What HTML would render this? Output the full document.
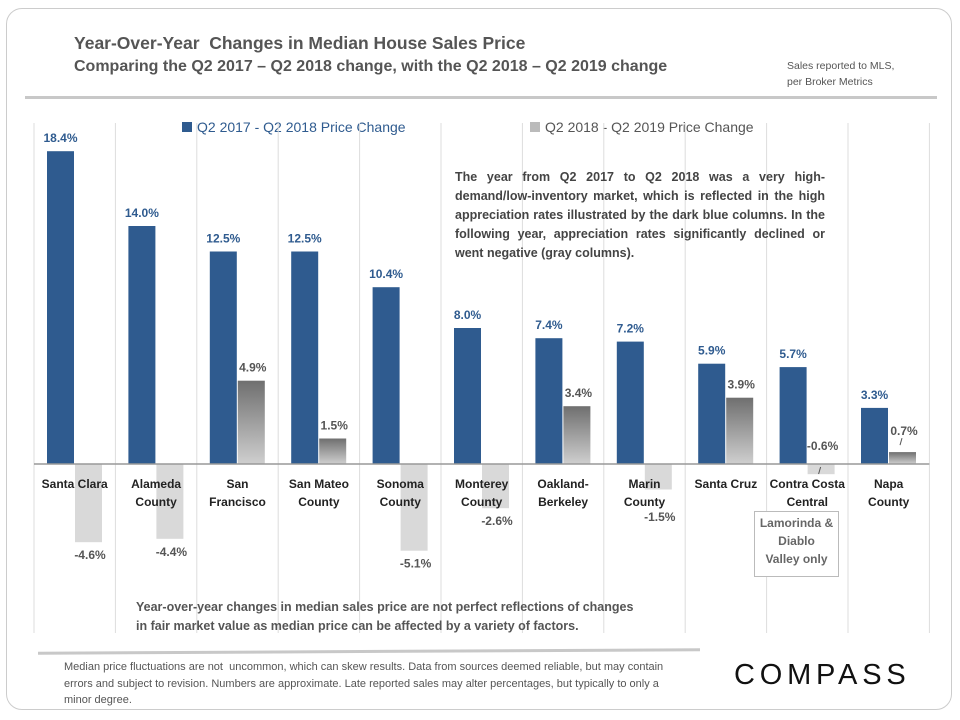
<!DOCTYPE html>
<html><head><meta charset="utf-8"><style>
body{margin:0;background:#fff;font-family:"Liberation Sans",sans-serif;}
#wrap{position:relative;width:960px;height:720px;overflow:hidden;}
.abs{position:absolute;}
</style></head><body>
<div id="wrap">
<div class="abs" style="left:6px;top:8px;width:944px;height:700px;border:1px solid #ccc;border-radius:16px;"></div>
<div class="abs" style="left:74px;top:33px;font-size:17.5px;font-weight:bold;color:#555;">Year-Over-Year&nbsp; Changes in Median House Sales Price</div>
<div class="abs" style="left:74px;top:58px;font-size:16px;font-weight:bold;color:#555;">Comparing the Q2 2017 – Q2 2018 change, with the Q2 2018 – Q2 2019 change</div>
<div class="abs" style="left:787px;top:58px;font-size:10.5px;color:#555;line-height:16px;">Sales reported to MLS,<br>per Broker Metrics</div>
<div class="abs" style="left:25px;top:96px;width:912px;height:3px;background:#c8c8c8;"></div>
<div class="abs" style="left:182px;top:119px;font-size:14px;color:#2f5b8f;"><span style="display:inline-block;width:10px;height:10px;background:#2f5b8f;margin-right:5px;"></span>Q2 2017 - Q2 2018 Price Change</div>
<div class="abs" style="left:530px;top:119px;font-size:14px;color:#555;"><span style="display:inline-block;width:10px;height:10px;background:#bbb;margin-right:5px;"></span>Q2 2018 - Q2 2019 Price Change</div>
<svg class="abs" style="left:0;top:0" width="960" height="720" id="chart">
<defs><linearGradient id="gg" x1="0" y1="0" x2="0" y2="1"><stop offset="0" stop-color="#6f6f6f"/><stop offset="1" stop-color="#cfcfcf"/></linearGradient></defs>
</svg>
<div class="abs" style="left:455px;top:168px;width:370px;font-size:12.5px;font-weight:bold;color:#444;line-height:19px;text-align:justify;">The year from Q2 2017 to Q2 2018 was a very high-demand/low-inventory market, which is reflected in the high appreciation rates illustrated by the dark blue columns. In the following year, appreciation rates significantly declined or went negative (gray columns).</div>
<div class="abs" style="left:754px;top:511px;width:83px;height:62px;border:1px solid #bbb;background:#fff;font-size:12px;font-weight:bold;color:#666;text-align:center;line-height:18px;padding-top:2px;">Lamorinda &amp;<br>Diablo<br>Valley only</div>
<div class="abs" style="left:136px;top:598px;font-size:12.5px;font-weight:bold;color:#555;line-height:19px;">Year-over-year changes in median sales price are not perfect reflections of changes<br>in fair market value as median price can be affected by a variety of factors.</div>
<div class="abs" style="left:38px;top:650px;width:662px;height:3px;background:#c8c8c8;transform:rotate(-0.3deg);"></div>
<div class="abs" style="left:64px;top:659px;width:625px;font-size:11px;color:#555;line-height:16.5px;">Median price fluctuations are not&nbsp; uncommon, which can skew results. Data from sources deemed reliable, but may contain errors and subject to revision. Numbers are approximate. Late reported sales may alter percentages, but typically to only a minor degree.</div>
<div class="abs" style="left:734px;top:659px;font-size:29px;letter-spacing:4.8px;color:#111;">COMPASS</div>
</div>
<script>
const categories=[["Santa Clara"],["Alameda","County"],["San","Francisco"],["San Mateo","County"],["Sonoma","County"],["Monterey","County"],["Oakland-","Berkeley"],["Marin","County"],["Santa Cruz"],["Contra Costa","Central"],["Napa","County"]];
const change1718=[18.4,14.0,12.5,12.5,10.4,8.0,7.4,7.2,5.9,5.7,3.3];
const change1819=[-4.6,-4.4,4.9,1.5,-5.1,-2.6,3.4,-1.5,3.9,-0.6,0.7];
const svg=document.getElementById('chart');
const NS='http://www.w3.org/2000/svg';
const x0=34,catW=81.4,zeroY=464,pxPer=17.0;
const y=v=>zeroY-v*pxPer;
function mk(t,a){const e=document.createElementNS(NS,t);for(const k in a)e.setAttribute(k,a[k]);svg.appendChild(e);return e;}
for(let i=0;i<=categories.length;i++){
 const l=mk('line',{x1:x0+i*catW,x2:x0+i*catW,y1:123,y2:633,stroke:'#ddd','stroke-width':1});
 
 
}
categories.forEach((c,i)=>{
 const cx=x0+i*catW;
 const v1=change1718[i],v2=change1819[i];
 const b1=mk('rect',{x:cx+13,y:Math.min(y(v1),zeroY),width:27,height:Math.abs(v1*pxPer),fill:'#2f5b8f'});
 
 
 const b2=mk('rect',{x:cx+41,y:Math.min(y(v2),zeroY),width:27,height:Math.abs(v2*pxPer),fill:v2>=0?'url(#gg)':'#d9d9d9'});
 
 
 const t1=mk('text',{x:cx+26.5,y:y(v1)-9,'text-anchor':'middle','font-size':12,'font-weight':'bold',fill:'#2f5b8f'});
 t1.textContent=v1.toFixed(1)+'%';
 
 
 let lx=cx+56,ly;
 if(Math.abs(v2)<1){
  ly=v2<0?zeroY-14:y(v2)-17;
  const ld=mk('line',{x1:cx+54,y1:ly+3,x2:cx+52,y2:ly+10,stroke:'#555','stroke-width':1});
  if(v2<0){ld.setAttribute('y1',zeroY+3);ld.setAttribute('y2',zeroY+10);}
  
  
 } else ly=v2>=0?y(v2)-9:Math.max(y(v2)+17,521);
 const t2=mk('text',{x:lx,y:ly,'text-anchor':'middle','font-size':12,'font-weight':'bold',fill:'#555'});
 t2.textContent=v2.toFixed(1)+'%';
 
 
 c.forEach((ln,j)=>{
  const t=mk('text',{x:cx+catW/2,y:488+j*18,'text-anchor':'middle','font-size':12,'font-weight':'bold',fill:'#222'});
  t.textContent=ln;
  
  
 });
});
const ax=mk('line',{x1:x0,x2:x0+categories.length*catW,y1:zeroY,y2:zeroY,stroke:'#999','stroke-width':1.5});


</script>
</body></html>
